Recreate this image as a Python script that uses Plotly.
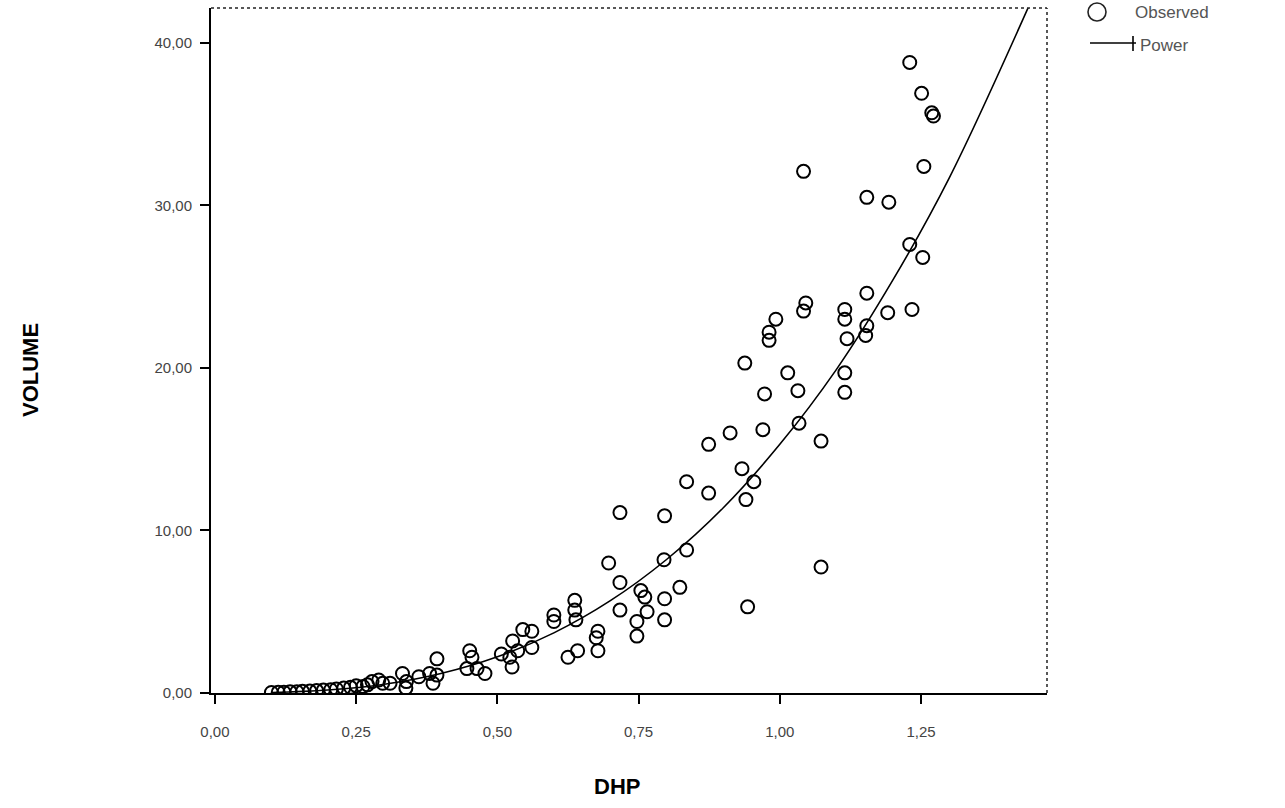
import plotly.graph_objects as go

dhp = [
    1.230, 1.251, 1.269, 1.272, 1.255, 1.253, 1.230, 1.234, 1.193, 1.154,
    1.042, 1.191, 1.154, 1.154, 1.152, 1.115, 1.115, 1.119, 1.115, 1.115,
    1.073, 1.073, 1.046, 1.042, 0.993, 0.981, 0.981, 0.938, 1.014, 0.973,
    1.032, 0.970, 1.034, 0.912, 0.874, 0.933, 0.954, 0.940, 0.874, 0.835,
    0.943,
    0.717, 0.796, 0.835, 0.795, 0.697, 0.717, 0.754, 0.761, 0.796, 0.823,
    0.717, 0.765, 0.747, 0.796, 0.747, 0.637, 0.637, 0.639, 0.600, 0.600,
    0.678, 0.675, 0.678, 0.625, 0.642, 0.545, 0.561, 0.527, 0.536, 0.561,
    0.522, 0.526, 0.507, 0.451, 0.455, 0.464, 0.478, 0.446, 0.393, 0.380,
    0.393, 0.386, 0.332, 0.339, 0.310, 0.297, 0.278, 0.262, 0.338, 0.361,
    0.250, 0.240, 0.228, 0.215, 0.205, 0.192, 0.180, 0.168, 0.155, 0.145,
    0.133, 0.122, 0.112, 0.100, 0.290, 0.270,
]
volume = [
    38.8, 36.9, 35.7, 35.5, 32.4, 26.8, 27.6, 23.6, 30.2, 30.5,
    32.1, 23.4, 24.6, 22.6, 22.0, 23.6, 23.0, 21.8, 19.7, 18.5,
    15.5, 7.75, 24.0, 23.5, 23.0, 22.2, 21.7, 20.3, 19.7, 18.4,
    18.6, 16.2, 16.6, 16.0, 15.3, 13.8, 13.0, 11.9, 12.3, 13.0,
    5.3,
    11.1, 10.9, 8.8, 8.2, 8.0, 6.8, 6.3, 5.9, 5.8, 6.5,
    5.1, 5.0, 4.4, 4.5, 3.5, 5.7, 5.1, 4.5, 4.8, 4.4,
    3.8, 3.4, 2.6, 2.2, 2.6, 3.9, 3.8, 3.2, 2.6, 2.8,
    2.2, 1.6, 2.4, 2.6, 2.2, 1.5, 1.2, 1.5, 2.1, 1.2,
    1.1, 0.6, 1.2, 0.7, 0.6, 0.6, 0.7, 0.4, 0.3, 1.0,
    0.45, 0.35, 0.3, 0.25, 0.2, 0.18, 0.15, 0.12, 0.1, 0.08,
    0.07, 0.05, 0.04, 0.03, 0.8, 0.5,
]

# Fitted power curve
curve_x = [0.10, 0.20, 0.30, 0.40, 0.50, 0.60, 0.70, 0.80, 0.90, 1.00,
           1.10, 1.20, 1.30, 1.44]
curve_y = [0.03, 0.18, 0.54, 1.20, 2.23, 3.70, 5.68, 8.23, 11.4, 15.3,
           19.9, 25.4, 31.7, 42.2]

x_ticks = [0.0, 0.25, 0.50, 0.75, 1.00, 1.25]
x_tick_labels = ["0,00", "0,25", "0,50", "0,75", "1,00", "1,25"]
y_ticks = [0, 10, 20, 30, 40]
y_tick_labels = ["0,00", "10,00", "20,00", "30,00", "40,00"]

legend_labels = ["Observed", "Power"]

fig = go.Figure()
fig.add_trace(go.Scatter(
    x=dhp, y=volume, mode="markers", name=legend_labels[0],
    marker=dict(symbol="circle-open", size=13, color="black",
                line=dict(width=2, color="black")),
))
fig.add_trace(go.Scatter(
    x=curve_x, y=curve_y, mode="lines", name=legend_labels[1],
    line=dict(color="black", width=1.6, shape="spline"),
))

FONT = "Liberation Sans, Arial, sans-serif"
tick_font = dict(family=FONT, size=15, color="#444")

# plot-area geometry in pixels (for the hand-drawn legend)
L, R, T, B = 211, 1047, 8, 693
def px(x):
    return (x - L) / (R - L)
def py(y):
    return (B - y) / (B - T)

fig.update_layout(
    width=1285, height=808,
    margin=dict(l=L, r=1285 - R, t=T, b=808 - B),
    paper_bgcolor="white", plot_bgcolor="white",
    showlegend=False,
    xaxis=dict(range=[-0.007, 1.473], tickvals=x_ticks, ticktext=x_tick_labels,
               showgrid=False, zeroline=False, showline=True, linecolor="black",
               linewidth=2, ticks="outside", ticklen=9, tickwidth=2, tickcolor="black",
               tickfont=tick_font, ticklabelstandoff=15),
    yaxis=dict(range=[0, 42.15], tickvals=y_ticks, ticktext=y_tick_labels,
               showgrid=False, zeroline=False, showline=True, linecolor="black",
               linewidth=2, ticks="outside", ticklen=9, tickwidth=1.5, tickcolor="black",
               tickfont=tick_font, ticklabelstandoff=5),
    annotations=[
        dict(text="<b>VOLUME</b>", xref="paper", yref="paper", x=px(30), y=py(370),
             textangle=-90, showarrow=False, xanchor="center", yanchor="middle",
             font=dict(family=FONT, size=22, color="black")),
        dict(text="<b>DHP</b>", xref="paper", yref="paper", x=px(617), y=py(786),
             xanchor="center", yanchor="middle", showarrow=False,
             font=dict(family=FONT, size=22, color="black")),
        dict(text=legend_labels[0], xref="paper", yref="paper", x=px(1133), y=py(13),
             xanchor="left", yanchor="middle", showarrow=False,
             font=dict(family=FONT, size=17, color="#555")),
        dict(text=legend_labels[1], xref="paper", yref="paper", x=px(1138), y=py(45),
             xanchor="left", yanchor="middle", showarrow=False,
             font=dict(family=FONT, size=17, color="#555")),
    ],
    shapes=[
        dict(type="line", xref="paper", yref="paper", x0=0, x1=1, y0=1, y1=1,
             line=dict(color="#222", width=1.5, dash="dot")),
        dict(type="line", xref="paper", yref="paper", x0=1, x1=1, y0=0, y1=1,
             line=dict(color="#222", width=1.5, dash="dot")),
        # legend symbols
        dict(type="circle", xref="paper", yref="paper",
             x0=px(1088), x1=px(1106), y0=py(21), y1=py(3),
             line=dict(color="#222", width=1.6)),
        dict(type="line", xref="paper", yref="paper",
             x0=px(1090), x1=px(1136), y0=py(43), y1=py(43),
             line=dict(color="black", width=1.6)),
        dict(type="line", xref="paper", yref="paper",
             x0=px(1133), x1=px(1133), y0=py(36), y1=py(51),
             line=dict(color="black", width=1.6)),
    ],
)

fig.write_html("out.html")
